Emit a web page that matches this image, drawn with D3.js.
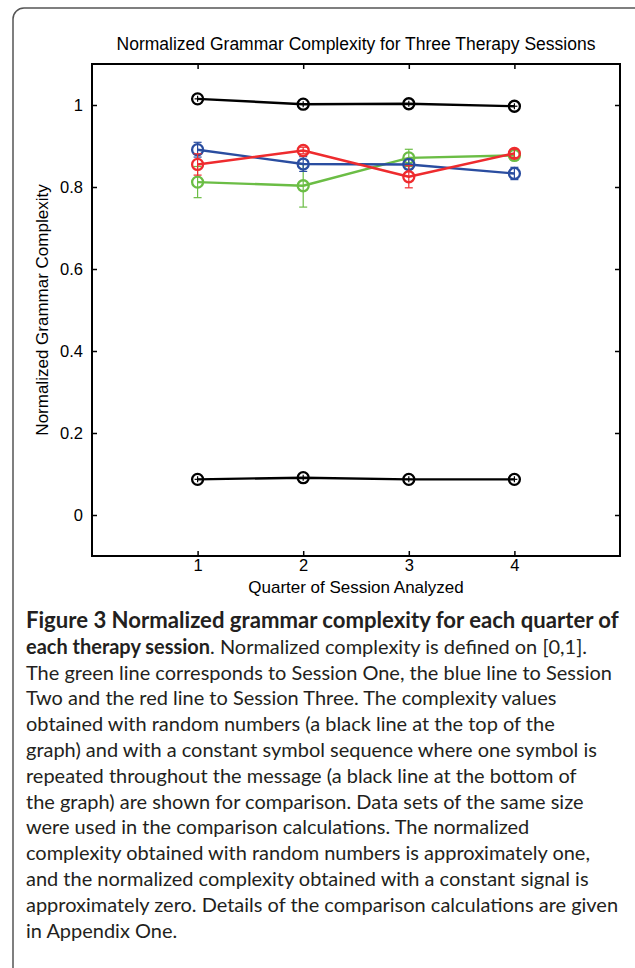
<!DOCTYPE html>
<html><head><meta charset="utf-8">
<script src="https://cdn.jsdelivr.net/npm/d3@7/dist/d3.min.js"></script>
<style>
html,body{margin:0;padding:0;background:#fff;}
svg{display:block;}
</style></head>
<body>
<svg id="chart" width="635" height="968"></svg>
<script>
const quarters = [1, 2, 3, 4];
const xTicks = [1, 2, 3, 4];
const yTicks = [0, 0.2, 0.4, 0.6, 0.8, 1];
const yTickLabels = ["0", "0.2", "0.4", "0.6", "0.8", "1"];

const randomValues   = [1.015, 1.002, 1.003, 0.997];
const constantValues = [0.087, 0.091, 0.087, 0.087];
const session1Values = [0.812, 0.803, 0.871, 0.877];
const session1Errors = [0.038, 0.052, 0.021, 0.012];
const session2Values = [0.891, 0.856, 0.855, 0.833];
const session2Errors = [0.018, 0.018, 0.012, 0.015];
const session3Values = [0.855, 0.889, 0.825, 0.882];
const session3Errors = [0.026, 0.008, 0.027, 0.010];

const titleText = "Normalized Grammar Complexity for Three Therapy Sessions";
const xLabel = "Quarter of Session Analyzed";
const yLabel = "Normalized Grammar Complexity";

const captionBold1 = "Figure 3 Normalized grammar complexity for each quarter of";
const captionBold2 = "each therapy session";
const captionLine2Rest = ". Normalized complexity is defined on [0,1].";
const captionLines = [
  "The green line corresponds to Session One, the blue line to Session",
  "Two and the red line to Session Three. The complexity values",
  "obtained with random numbers (a black line at the top of the",
  "graph) and with a constant symbol sequence where one symbol is",
  "repeated throughout the message (a black line at the bottom of",
  "the graph) are shown for comparison. Data sets of the same size",
  "were used in the comparison calculations. The normalized",
  "complexity obtained with random numbers is approximately one,",
  "and the normalized complexity obtained with a constant signal is",
  "approximately zero. Details of the comparison calculations are given",
  "in Appendix One."
];

const series = [
  {name:"Random", values: randomValues, errors: null, color:"#000000"},
  {name:"Constant", values: constantValues, errors: null, color:"#000000"},
  {name:"Session One", values: session1Values, errors: session1Errors, color:"#6bbd45"},
  {name:"Session Two", values: session2Values, errors: session2Errors, color:"#2a4da0"},
  {name:"Session Three", values: session3Values, errors: session3Errors, color:"#ee2b2e"}
];

const svg = d3.select("#chart");

// outer rounded frame
svg.append("rect").attr("x", 13).attr("y", 8).attr("width", 640).attr("height", 1000)
  .attr("rx", 11).attr("fill", "none").attr("stroke", "#555").attr("stroke-width", 1.5);

const L = 92, R = 620, T = 64, B = 556;
const x = d3.scaleLinear().domain([0, 5]).range([L, R]);
const y = d3.scaleLinear().domain([-0.1, 1.1]).range([B, T]);

const font = "'Liberation Sans', Arial, Helvetica, sans-serif";

// axes (MATLAB-style inward ticks)
const tickLen = 5;
const axB = d3.axisBottom(x).tickValues(xTicks).tickFormat(d3.format("d")).tickSizeInner(-tickLen).tickSizeOuter(0).tickPadding(3);
const axT = d3.axisTop(x).tickValues(xTicks).tickFormat("").tickSizeInner(-tickLen).tickSizeOuter(0);
const axL = d3.axisLeft(y).tickValues(yTicks).tickFormat((d,i)=>yTickLabels[i]).tickSizeInner(-tickLen).tickSizeOuter(0).tickPadding(9);
const axR = d3.axisRight(y).tickValues(yTicks).tickFormat("").tickSizeInner(-tickLen).tickSizeOuter(0);

function styleAxis(g){
  g.select(".domain").remove();
  g.selectAll(".tick line").attr("stroke", "#000").attr("stroke-width", 1.5);
  g.selectAll(".tick text").attr("font-family", font).attr("font-size", 16.5).attr("fill", "#000");
}
svg.append("g").attr("transform", `translate(0,${B})`).call(axB).call(styleAxis);
svg.append("g").attr("transform", `translate(0,${T})`).call(axT).call(styleAxis);
svg.append("g").attr("transform", `translate(${L},0)`).call(axL).call(styleAxis);
svg.append("g").attr("transform", `translate(${R},0)`).call(axR).call(styleAxis);

svg.append("rect").attr("x", L).attr("y", T).attr("width", R - L).attr("height", B - T)
  .attr("fill", "none").attr("stroke", "#000").attr("stroke-width", 2);

// series
const line = d3.line().x((d,i)=>x(quarters[i])).y(d=>y(d));
const capW = 4;
series.forEach(s => {
  const g = svg.append("g");
  if (s.errors) {
    s.values.forEach((v,i)=>{
      const e = s.errors[i], cx = x(quarters[i]);
      g.append("line").attr("x1", cx).attr("x2", cx).attr("y1", y(v - e)).attr("y2", y(v + e))
        .attr("stroke", s.color).attr("stroke-width", 1.2);
      [v - e, v + e].forEach(w => g.append("line").attr("x1", cx - capW).attr("x2", cx + capW)
        .attr("y1", y(w)).attr("y2", y(w)).attr("stroke", s.color).attr("stroke-width", 1.2));
    });
  } else {
    s.values.forEach((v,i)=>{
      const cx = x(quarters[i]);
      g.append("line").attr("x1", cx).attr("x2", cx).attr("y1", y(v) - 3).attr("y2", y(v) + 3)
        .attr("stroke", s.color).attr("stroke-width", 1.2);
      g.append("line").attr("x1", cx - 3).attr("x2", cx + 3).attr("y1", y(v)).attr("y2", y(v))
        .attr("stroke", s.color).attr("stroke-width", 1.2);
    });
  }
  g.append("path").datum(s.values).attr("d", line).attr("fill", "none")
    .attr("stroke", s.color).attr("stroke-width", 2.4).attr("stroke-linejoin", "round");
  g.selectAll("circle").data(s.values).enter().append("circle")
    .attr("cx", (d,i)=>x(quarters[i])).attr("cy", d=>y(d)).attr("r", 5.5)
    .attr("fill", "none").attr("stroke", s.color).attr("stroke-width", 2.3);
});

// titles
svg.append("text").attr("x", (L + R) / 2).attr("y", 50).attr("text-anchor", "middle")
  .attr("font-family", font).attr("font-size", 17.5).attr("fill", "#000").text(titleText);
svg.append("text").attr("x", (L + R) / 2).attr("y", 593).attr("text-anchor", "middle")
  .attr("font-family", font).attr("font-size", 17).attr("fill", "#000").text(xLabel);
svg.append("text").attr("transform", `translate(48,${(T + B) / 2}) rotate(-90)`).attr("text-anchor", "middle")
  .attr("font-family", font).attr("font-size", 17).attr("fill", "#000").text(yLabel);

// caption
const capFont = "Lato, 'Open Sans', sans-serif";
const capX = 26, capY0 = 628, lh = 25.8;
const cap = svg.append("g").attr("font-family", capFont).attr("fill", "#231f20");
const t1 = cap.append("text").attr("x", capX).attr("y", capY0).attr("font-weight", "bold").attr("font-size", 18).text(captionBold1);
const t2 = cap.append("text").attr("x", capX).attr("y", capY0 + lh).attr("font-size", 17.5);
t2.append("tspan").attr("font-weight", "bold").text(captionBold2);
t2.append("tspan").text(captionLine2Rest);
const rest = captionLines.map((l,i)=> cap.append("text").attr("x", capX).attr("y", capY0 + lh*(i+2)).attr("font-size", 17.5).text(l));
// fit widths to reference line lengths
const w1 = t1.node().getComputedTextLength();
t1.attr("font-size", 18 * 593 / w1);
const w3 = rest[0].node().getComputedTextLength();
const fs = 17.5 * 586 / w3;
t2.attr("font-size", fs);
rest.forEach(r => r.attr("font-size", fs));
</script>
</body></html>
